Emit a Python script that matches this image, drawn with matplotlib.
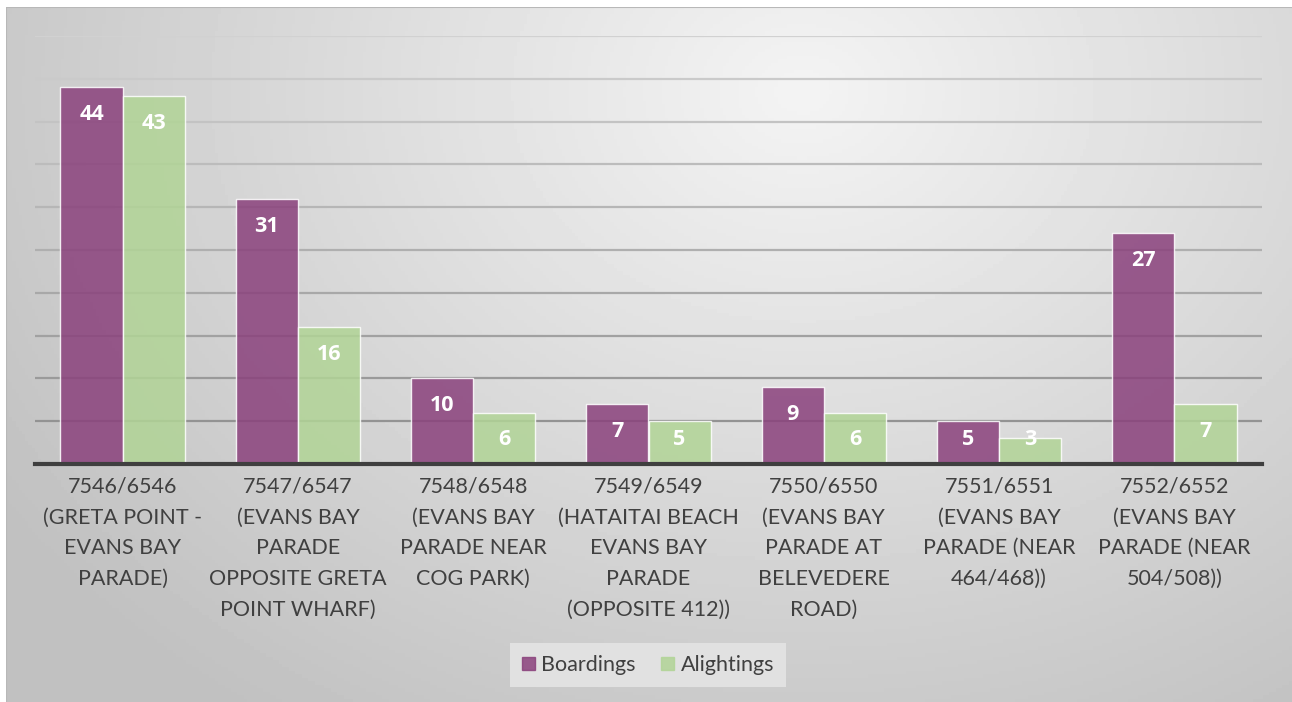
import matplotlib
matplotlib.use("Agg")
import matplotlib.pyplot as plt
import matplotlib.patches as mpatches
import numpy as np

plt.rcParams['font.family'] = ['Lato', 'DejaVu Sans']

categories = [
    "7546/6546\n(GRETA POINT -\nEVANS BAY\nPARADE)",
    "7547/6547\n(EVANS BAY\nPARADE\nOPPOSITE GRETA\nPOINT WHARF)",
    "7548/6548\n(EVANS BAY\nPARADE NEAR\nCOG PARK)",
    "7549/6549\n(HATAITAI BEACH\nEVANS BAY\nPARADE\n(OPPOSITE 412))",
    "7550/6550\n(EVANS BAY\nPARADE AT\nBELEVEDERE\nROAD)",
    "7551/6551\n(EVANS BAY\nPARADE (NEAR\n464/468))",
    "7552/6552\n(EVANS BAY\nPARADE (NEAR\n504/508))",
]
boardings = [44, 31, 10, 7, 9, 5, 27]
alightings = [43, 16, 6, 5, 6, 3, 7]
series_names = ["Boardings", "Alightings"]

purple = "#8a417c"
green = "#b1d496"
W, H = 1292, 702

fig = plt.figure(figsize=(W / 100, H / 100), dpi=100)
fig.patch.set_facecolor("white")

# gradient background panel
bg = fig.add_axes([6 / W, 0, (W - 6) / W, (H - 7) / H])
bg.set_axis_off()
yy, xx = np.mgrid[0:1:200j, 0:1:400j]
d = np.sqrt(((xx - 0.62) / 0.75) ** 2 + ((yy - 0.12) / 1.1) ** 2)
shade = 0.955 - 0.2 * np.clip(d, 0, 1)
bg.imshow(shade, cmap="gray", vmin=0, vmax=1, aspect="auto",
          extent=[0, 1, 0, 1], origin="upper")
bg.set_xlim(0, 1)
bg.set_ylim(0, 1)
bg.plot([0, 0], [0, 1], color="#b8b8b8", lw=1.5)
bg.plot([0, 1], [1, 1], color="#b8b8b8", lw=1.5)

ax = fig.add_axes([35 / W, 1 - 464 / H, (1262 - 35) / W, (464 - 36) / H])
ax.patch.set_alpha(0)
ax.set_xlim(-0.5, len(categories) - 0.5)
ax.set_ylim(0, 50)

# gridlines, darker toward the bottom
levels = np.arange(5, 51, 5)
for lv in levels:
    c = 0.55 + 0.27 * (lv / 50)
    ax.axhline(lv, color=(c, c, c), lw=1.6, zorder=1)

x = np.arange(len(categories))
bw = 0.355
ax.bar(x - bw / 2, boardings, bw, color=purple, alpha=0.85,
       edgecolor=(1, 1, 1, 0.5), lw=1, zorder=2, label=series_names[0])
ax.bar(x + bw / 2, alightings, bw, color=green, alpha=0.85,
       edgecolor=(1, 1, 1, 0.5), lw=1, zorder=2, label=series_names[1])

for xs, vals in [(x - bw / 2, boardings), (x + bw / 2, alightings)]:
    for xi, v in zip(xs, vals):
        ax.text(xi, max(v - 3.2, 2.85), str(v), ha="center", va="center",
                color="white", fontsize=15.5, fontweight="bold",
                family=["Open Sans", "DejaVu Sans"], zorder=3)

ax.axhline(0, color="#3f3f3f", lw=3, zorder=4, clip_on=False)

ax.set_xticks(x)
ax.set_xticklabels(categories, fontsize=15.5, color="#404040", linespacing=1.68,
                   va="top")
ax.tick_params(axis="x", length=0, pad=9)
ax.set_yticks([])
for s in ax.spines.values():
    s.set_visible(False)

handles = [mpatches.Patch(color=purple, alpha=0.85, label=series_names[0]),
           mpatches.Patch(color=green, alpha=0.85, label=series_names[1])]
leg = fig.legend(handles=handles, loc="center", bbox_to_anchor=(648 / W, 1 - 665 / H),
                 ncol=2, frameon=True, fontsize=15.5, handlelength=0.6,
                 handleheight=0.6, handletextpad=0.3, columnspacing=1.2,
                 borderpad=0.55, borderaxespad=0, fancybox=False)
leg.get_frame().set_facecolor("#e4e4e4")
leg.get_frame().set_edgecolor("none")
leg.get_frame().set_alpha(0.9)
for t in leg.get_texts():
    t.set_color("#404040")

fig.savefig("out.png", dpi=100)
